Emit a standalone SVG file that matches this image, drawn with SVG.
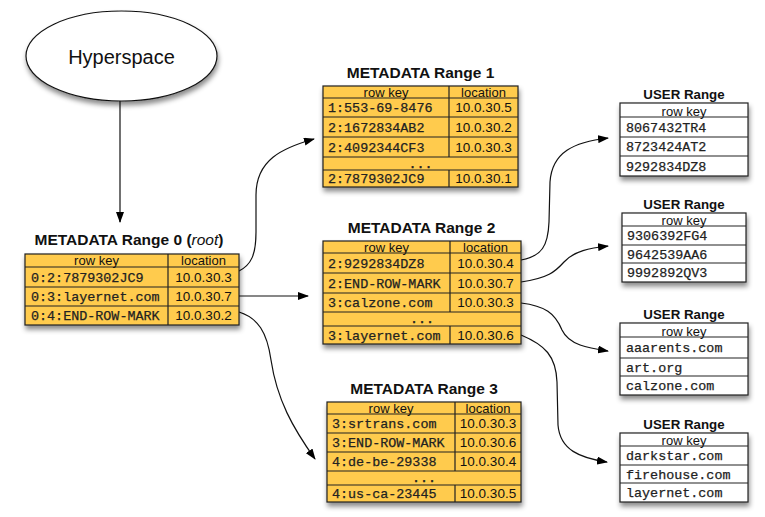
<svg xmlns="http://www.w3.org/2000/svg" width="765" height="517" viewBox="0 0 765 517">
<defs>
<filter id="sh" x="-10%" y="-10%" width="130%" height="140%">
<feDropShadow dx="1" dy="4" stdDeviation="2.5" flood-color="#000" flood-opacity="0.45"/>
</filter>
<marker id="ah" markerUnits="userSpaceOnUse" markerWidth="11" markerHeight="8" refX="10" refY="4" orient="auto">
<path d="M0,0 L11,4 L0,8 z" fill="#000"/>
</marker>
<style>
.md{fill:#FFCB4E;stroke:#222;stroke-width:1.2}
.us{fill:#fff;stroke:#222;stroke-width:1.2}
.ln{stroke:#222;stroke-width:1.2;fill:none}
.t{font-family:"Liberation Sans",Arial,sans-serif;font-weight:bold;font-size:15.5px;fill:#111;text-anchor:middle}
.ut{font-family:"Liberation Sans",Arial,sans-serif;font-weight:bold;font-size:13.3px;fill:#111;text-anchor:middle}
.h{font-family:"Liberation Sans",Arial,sans-serif;font-size:13px;fill:#111;text-anchor:middle}
.loc{font-family:"Liberation Sans",Arial,sans-serif;font-size:13.5px;fill:#111;text-anchor:middle}
.m{font-family:"Liberation Mono","Courier New",monospace;font-size:13.4px;fill:#222;stroke:#222;stroke-width:0.25}
.mc{font-family:"Liberation Mono","Courier New",monospace;font-size:13.4px;fill:#222;stroke:#222;stroke-width:0.4;text-anchor:middle}
.c{fill:none;stroke:#111;stroke-width:1.2}
</style>
</defs>
<rect width="765" height="517" fill="#fff"/>

<g id="hyperspace">
<ellipse cx="121.5" cy="56" rx="95.5" ry="45" fill="#fff" stroke="#111" stroke-width="1.2" filter="url(#sh)"/>
<text x="121.5" y="64" font-family="'Liberation Sans',Arial,sans-serif" font-size="20" text-anchor="middle" fill="#111">Hyperspace</text>
</g>

<g id="connectors">
<path class="c" d="M120,101 L120,222" marker-end="url(#ah)"/>
<path class="c" d="M239,271 C251,265 256,255 256,232 L256,195 C256,160 282,148 314,139" marker-end="url(#ah)"/>
<path class="c" d="M239,296 L308,296" marker-end="url(#ah)"/>
<path class="c" d="M239,312 C258,318 267,332 271,360 C277,400 293,428 315,459" marker-end="url(#ah)"/>
<path class="c" d="M521,260 C542,256 548,246 549,222 L550,182 C552,152 574,142 608,138" marker-end="url(#ah)"/>
<path class="c" d="M521,282 C548,278 555,272 564,262 C574,251 590,248 608,246" marker-end="url(#ah)"/>
<path class="c" d="M521,303 C545,306 555,313 562,330 C569,345 588,348 608,351" marker-end="url(#ah)"/>
<path class="c" d="M521,335 C545,345 556,356 557,382 L558,425 C560,450 580,458 607,462" marker-end="url(#ah)"/>
</g>

<g id="md0">
<text class="t" x="129" y="245">METADATA Range 0 (<tspan font-weight="normal" font-style="italic">root</tspan>)</text>
<rect class="md" x="25" y="254" width="214" height="71" filter="url(#sh)"/>
<path class="ln" d="M25,267 H239 M25,287 H239 M25,306 H239 M168,254 V325"/>
<text class="h" x="96.5" y="265">row key</text>
<text class="h" x="203.5" y="265">location</text>
<text class="m" x="31" y="281.5">0:2:7879302JC9</text>
<text class="m" x="31" y="301">0:3:layernet.com</text>
<text class="m" x="31" y="320">0:4:END-ROW-MARK</text>
<text class="loc" x="203.5" y="281.5">10.0.30.3</text>
<text class="loc" x="203.5" y="301">10.0.30.7</text>
<text class="loc" x="203.5" y="320">10.0.30.2</text>
</g>

<g id="md1">
<text class="t" x="420.5" y="77.5">METADATA Range 1</text>
<rect class="md" x="323" y="86" width="195" height="101" filter="url(#sh)"/>
<path class="ln" d="M323,98 H518 M323,117 H518 M323,137 H518 M323,157 H518 M323,170 H518 M449,86 V157 M449,170 V187"/>
<text class="h" x="386" y="96.5">row key</text>
<text class="h" x="483.5" y="96.5">location</text>
<text class="m" x="328" y="112">1:553-69-8476</text>
<text class="m" x="328" y="131.5">2:1672834AB2</text>
<text class="m" x="328" y="151.5">2:4092344CF3</text>
<text class="mc" x="420.5" y="167.5">...</text>
<text class="m" x="328" y="183">2:7879302JC9</text>
<text class="loc" x="483.5" y="112">10.0.30.5</text>
<text class="loc" x="483.5" y="131.5">10.0.30.2</text>
<text class="loc" x="483.5" y="151.5">10.0.30.3</text>
<text class="loc" x="483.5" y="183">10.0.30.1</text>
</g>

<g id="md2">
<text class="t" x="421.5" y="232.5">METADATA Range 2</text>
<rect class="md" x="323" y="241" width="198" height="103" filter="url(#sh)"/>
<path class="ln" d="M323,253 H521 M323,273 H521 M323,293 H521 M323,312 H521 M323,326 H521 M450,241 V312 M450,326 V344"/>
<text class="h" x="386.5" y="251.5">row key</text>
<text class="h" x="485.5" y="251.5">location</text>
<text class="m" x="328" y="267.5">2:9292834DZ8</text>
<text class="m" x="328" y="287.5">2:END-ROW-MARK</text>
<text class="m" x="328" y="307">3:calzone.com</text>
<text class="mc" x="422" y="323">...</text>
<text class="m" x="328" y="339.5">3:layernet.com</text>
<text class="loc" x="485.5" y="267.5">10.0.30.4</text>
<text class="loc" x="485.5" y="287.5">10.0.30.7</text>
<text class="loc" x="485.5" y="307">10.0.30.3</text>
<text class="loc" x="485.5" y="339.5">10.0.30.6</text>
</g>

<g id="md3">
<text class="t" x="424" y="393.5">METADATA Range 3</text>
<rect class="md" x="327" y="402" width="194" height="100" filter="url(#sh)"/>
<path class="ln" d="M327,414 H521 M327,433 H521 M327,452 H521 M327,471 H521 M327,485 H521 M455,402 V471 M455,485 V502"/>
<text class="h" x="391" y="412.5">row key</text>
<text class="h" x="488" y="412.5">location</text>
<text class="m" x="332" y="428">3:srtrans.com</text>
<text class="m" x="332" y="447">3:END-ROW-MARK</text>
<text class="m" x="332" y="466">4:de-be-29338</text>
<text class="mc" x="424" y="482">...</text>
<text class="m" x="332" y="498">4:us-ca-23445</text>
<text class="loc" x="488" y="428">10.0.30.3</text>
<text class="loc" x="488" y="447">10.0.30.6</text>
<text class="loc" x="488" y="466">10.0.30.4</text>
<text class="loc" x="488" y="498">10.0.30.5</text>
</g>

<g id="user1">
<text class="ut" x="684" y="99">USER Range</text>
<rect class="us" x="620" y="103" width="128" height="73" filter="url(#sh)"/>
<path class="ln" d="M620,117 H748 M620,137 H748 M620,156 H748"/>
<text class="h" x="684" y="115.5">row key</text>
<text class="m" x="626" y="131.5">8067432TR4</text>
<text class="m" x="626" y="151">8723424AT2</text>
<text class="m" x="626" y="170.5">9292834DZ8</text>
</g>

<g id="user2">
<text class="ut" x="684" y="209">USER Range</text>
<rect class="us" x="622" y="213" width="124" height="69" filter="url(#sh)"/>
<path class="ln" d="M622,226 H746 M622,245 H746 M622,263 H746"/>
<text class="h" x="684" y="224.5">row key</text>
<text class="m" x="627" y="240">9306392FG4</text>
<text class="m" x="627" y="258.5">9642539AA6</text>
<text class="m" x="627" y="277">9992892QV3</text>
</g>

<g id="user3">
<text class="ut" x="684" y="318.5">USER Range</text>
<rect class="us" x="620" y="323" width="128" height="72" filter="url(#sh)"/>
<path class="ln" d="M620,337 H748 M620,358 H748 M620,376 H748"/>
<text class="h" x="684" y="335.5">row key</text>
<text class="m" x="626" y="352">aaarents.com</text>
<text class="m" x="626" y="371.5">art.org</text>
<text class="m" x="626" y="390">calzone.com</text>
</g>

<g id="user4">
<text class="ut" x="684" y="428.5">USER Range</text>
<rect class="us" x="620" y="433" width="128" height="69" filter="url(#sh)"/>
<path class="ln" d="M620,446 H748 M620,465 H748 M620,483 H748"/>
<text class="h" x="684" y="444.5">row key</text>
<text class="m" x="626" y="460">darkstar.com</text>
<text class="m" x="626" y="478.5">firehouse.com</text>
<text class="m" x="626" y="497">layernet.com</text>
</g>
</svg>
